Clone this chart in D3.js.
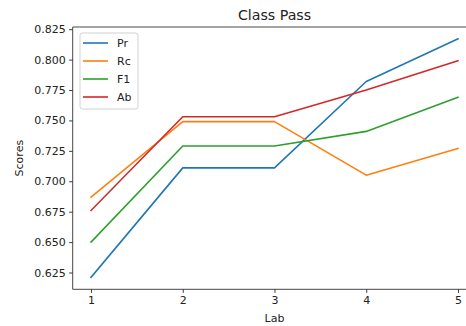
<!DOCTYPE html>
<html>
<head>
<meta charset="utf-8">
<script src="https://cdn.jsdelivr.net/npm/d3@7"></script>
<style>
  html, body { margin: 0; padding: 0; background: #fff; }
  svg { display: block; font-family: "DejaVu Sans", sans-serif; }
</style>
</head>
<body>
<svg id="chart" width="466" height="326"></svg>
<script>
const labs = [1, 2, 3, 4, 5];
const seriesNames = ["Pr", "Rc", "F1", "Ab"];
const prValues = [0.621, 0.711, 0.711, 0.782, 0.817];
const rcValues = [0.687, 0.749, 0.749, 0.705, 0.727];
const f1Values = [0.650, 0.729, 0.729, 0.741, 0.769];
const abValues = [0.676, 0.753, 0.753, 0.775, 0.799];
const yTicks = [0.625, 0.650, 0.675, 0.700, 0.725, 0.750, 0.775, 0.800, 0.825];
const colors = ["#1f77b4", "#ff7f0e", "#2ca02c", "#d62728"];
const chartTitle = "Class Pass";
const xLabel = "Lab";
const yLabel = "Scores";

const allSeries = [prValues, rcValues, f1Values, abValues];

const svg = d3.select("#chart");
const pLeft = 72.7, pRight = 476.3, pTop = 27, pBottom = 289.3;

const x = d3.scaleLinear().domain([0.8, 5.2]).range([pLeft, pRight]);
const yMin = 0.621, yMax = 0.817, pad = (yMax - yMin) * 0.05;
const y = d3.scaleLinear().domain([yMin - pad, yMax + pad]).range([pBottom, pTop]);

// lines
const line = d3.line().x((d, i) => x(labs[i])).y(d => y(d));
allSeries.forEach((vals, k) => {
  svg.append("path")
    .datum(vals)
    .attr("d", line)
    .attr("fill", "none")
    .attr("stroke", colors[k])
    .attr("stroke-width", 1.6)
    .attr("stroke-linejoin", "round")
    .attr("stroke-linecap", "square");
});

// axes
const xAxis = d3.axisBottom(x).tickValues(labs).tickFormat(d3.format("d")).tickSize(3.5).tickPadding(3.5);
const yAxis = d3.axisLeft(y).tickValues(yTicks).tickFormat(d3.format(".3f")).tickSize(3.5).tickPadding(3.5);

const gx = svg.append("g").attr("transform", `translate(0,${pBottom})`).call(xAxis);
const gy = svg.append("g").attr("transform", `translate(${pLeft},0)`).call(yAxis);
[gx, gy].forEach(g => {
  g.select(".domain").remove();
  g.selectAll("text").attr("font-size", 11).attr("fill", "#222").attr("font-family", "DejaVu Sans");
  g.selectAll("line").attr("stroke", "#222").attr("stroke-width", 0.9);
});

// spines
const spine = (x1, y1, x2, y2) => svg.append("line")
  .attr("x1", x1).attr("y1", y1).attr("x2", x2).attr("y2", y2)
  .attr("stroke", "#333").attr("stroke-width", 0.9);
spine(pLeft, pTop, pLeft, pBottom);
spine(pLeft, pBottom, pRight, pBottom);
spine(pLeft, pTop, pRight, pTop);
spine(pRight, pTop, pRight, pBottom);

// title and labels
const cx = (pLeft + pRight) / 2;
svg.append("text").attr("x", cx).attr("y", 20).attr("text-anchor", "middle")
  .attr("font-size", 14.2).attr("fill", "#222").text(chartTitle);
svg.append("text").attr("x", cx).attr("y", 322).attr("text-anchor", "middle")
  .attr("font-size", 11).attr("fill", "#222").text(xLabel);
svg.append("text").attr("transform", `translate(23,${(pTop + pBottom) / 2}) rotate(-90)`)
  .attr("text-anchor", "middle").attr("font-size", 11).attr("fill", "#222").text(yLabel);

// legend
const lg = svg.append("g");
lg.append("rect").attr("x", 80).attr("y", 33).attr("width", 58).attr("height", 76)
  .attr("rx", 2.5).attr("fill", "#fff").attr("fill-opacity", 0.8)
  .attr("stroke", "#ccc").attr("stroke-width", 0.9);
seriesNames.forEach((name, k) => {
  const yy = 43 + k * 18;
  lg.append("line").attr("x1", 83).attr("x2", 108).attr("y1", yy).attr("y2", yy)
    .attr("stroke", colors[k]).attr("stroke-width", 1.6);
  lg.append("text").attr("x", 117).attr("y", yy + 4).attr("font-size", 11)
    .attr("fill", "#222").text(name);
});
</script>
</body>
</html>
